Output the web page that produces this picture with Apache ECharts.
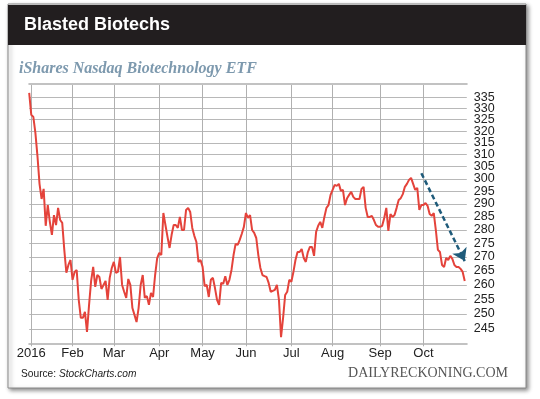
<!DOCTYPE html>
<html>
<head>
<meta charset="utf-8">
<title>Blasted Biotechs</title>
<script src="https://cdn.jsdelivr.net/npm/echarts@6/dist/echarts.min.js"></script>
<style>
  html, body { margin: 0; padding: 0; background: #fff; }
  #chart { width: 540px; height: 399px; }
</style>
</head>
<body>
<div id="chart"></div>
<script>
// NYSE closed on these days (2016)
var holidays = ['2016-01-18', '2016-02-15', '2016-03-25', '2016-05-30', '2016-07-04', '2016-09-05'];
var firstDay = '2015-12-31';
var lastDay = '2016-11-01';

var monthLabels = ['2016', 'Feb', 'Mar', 'Apr', 'May', 'Jun', 'Jul', 'Aug', 'Sep', 'Oct'];

var yTicks = [245, 250, 255, 260, 265, 270, 275, 280, 285, 290, 295, 300,
  305, 310, 315, 320, 325, 330, 335];

// IBB closes (one per trading day)
var ibb = [
  336.9, 327.1, 326.2, 319.2, 309.4, 298.0, 292.0, 296.0, 281.6, 289.6,
  283.1, 278.2, 285.7, 281.9, 288.5, 283.8, 282.7, 272.6, 264.3, 267.1,
  268.9, 261.8, 264.6, 265.3, 254.8, 248.7, 248.7, 250.7, 244.0, 253.1,
  261.4, 266.4, 259.3, 263.5, 262.8, 258.6, 260.0, 261.4, 254.8, 262.5,
  266.0, 268.2, 264.3, 264.6, 270.0, 260.0, 257.6, 255.5, 262.1, 260.0,
  252.0, 249.7, 247.3, 252.0, 260.0, 263.5, 255.5, 256.1, 253.1, 257.2,
  255.8, 263.5, 269.6, 271.5, 270.7, 286.5, 281.9, 277.4, 273.3, 278.2,
  281.9, 281.9, 280.8, 285.0, 280.0, 280.0, 287.7, 288.5, 286.9, 280.8,
  277.8, 275.5, 268.2, 268.9, 266.4, 259.6, 260.0, 255.8, 261.8, 262.5,
  258.9, 254.8, 253.1, 260.7, 260.4, 263.1, 260.0, 261.8, 265.3, 270.7,
  274.8, 274.4, 276.3, 278.6, 281.2, 286.5, 284.6, 285.7, 280.0, 278.9,
  277.0, 270.7, 266.0, 263.5, 263.1, 262.8, 260.7, 257.6, 257.9, 258.3,
  260.0, 254.8, 242.3, 248.7, 256.5, 257.6, 261.8, 261.1, 264.6, 268.9,
  271.8, 271.8, 272.9, 269.6, 268.2, 271.8, 273.7, 273.7, 270.4, 279.3,
  281.6, 283.1, 280.8, 285.0, 288.5, 289.6, 293.6, 295.6, 297.6, 297.2,
  298.0, 295.2, 295.6, 289.6, 292.3, 293.6, 294.8, 292.8, 292.0, 292.0,
  292.0, 296.0, 296.8, 288.5, 285.0, 285.0, 285.4, 283.8, 281.9, 281.2,
  281.2, 281.6, 284.6, 288.5, 279.7, 286.1, 285.0, 285.7, 288.5, 291.6,
  292.3, 293.9, 296.8, 298.0, 299.6, 300.4, 298.0, 295.6, 296.4, 287.7,
  289.6, 289.6, 290.4, 289.3, 286.1, 285.4, 286.5, 280.0, 272.6, 271.8,
  267.1, 266.4, 269.6, 268.9, 270.4, 269.3, 267.1, 266.4, 266.4, 265.7,
  264.6, 261.4
];

// trend arrow: [trading day index, price]
var arrowFrom = [190, 302.3];
var arrowTo = [211, 268.5];

var dates = [];
(function () {
  var d = new Date(firstDay + 'T00:00:00Z');
  var end = new Date(lastDay + 'T00:00:00Z');
  while (d <= end) {
    var s = d.toISOString().slice(0, 10);
    var wd = d.getUTCDay();
    if (wd !== 0 && wd !== 6 && holidays.indexOf(s) < 0) dates.push(s);
    d.setUTCDate(d.getUTCDate() + 1);
  }
})();

function isMonthStart(idx) {
  if (idx === 0) return false;
  var m = +dates[idx].slice(5, 7);
  return dates[idx].slice(0, 4) === '2016' && m <= monthLabels.length &&
    dates[idx].slice(5, 7) !== dates[idx - 1].slice(5, 7);
}

var labelFont = '"Liberation Sans", Arial, sans-serif';

// the price axis is logarithmic: plot ln(price), label with the price
function priceAxis(ticks) {
  var vals = ticks.map(Math.log);
  return {
    type: 'value',
    position: 'right',
    min: Math.log(240.3),
    max: Math.log(341),
    axisLine: { show: false },
    axisTick: { show: false, customValues: vals },
    axisLabel: {
      customValues: vals,
      showMinLabel: true,
      showMaxLabel: true,
      margin: 7,
      color: '#222',
      fontSize: 12.5,
      fontFamily: labelFont,
      formatter: function (v) {
        return Math.round(Math.exp(v));
      }
    },
    splitLine: { show: true, lineStyle: { color: '#b8b8b8', width: 1 } }
  };
}

var myChart = echarts.init(document.getElementById('chart'));

var option = {
  animation: false,
  backgroundColor: '#fff',
  graphic: [
    {
      type: 'rect',
      shape: { x: 8, y: 4, width: 518, height: 384 },
      style: {
        fill: '#fff', stroke: '#8a8a8a', lineWidth: 1,
        shadowBlur: 4, shadowOffsetX: 2, shadowOffsetY: 2, shadowColor: 'rgba(0,0,0,0.45)'
      },
      z: -10
    },
    {
      type: 'rect',
      shape: { x: 8, y: 5, width: 518, height: 40 },
      style: { fill: '#221e1f' },
      z: -9
    },
    {
      type: 'text',
      left: 24, top: 16,
      style: {
        text: 'Blasted Biotechs', fill: '#fff',
        font: 'bold 18px "Liberation Sans", Arial, sans-serif'
      }
    },
    {
      type: 'text',
      left: 19, top: 61,
      style: {
        text: 'iShares Nasdaq Biotechnology ETF', fill: '#7d99ae',
        font: 'italic bold 16px "Liberation Serif", "Times New Roman", serif'
      }
    },
    {
      type: 'text',
      left: 21, top: 369,
      style: {
        text: 'Source: {i|StockCharts.com}', fill: '#222',
        font: '10.2px "Liberation Sans", Arial, sans-serif',
        rich: { i: { fontStyle: 'italic', fontSize: 10.2, fontFamily: labelFont, fill: '#222' } }
      }
    },
    {
      type: 'text',
      right: 32, top: 366,
      style: {
        text: 'DAILYRECKONING.COM', fill: '#555',
        font: '14px "Liberation Serif", "Times New Roman", serif'
      }
    }
  ],
  grid: {
    left: 29.2,
    right: 73.2,
    top: 84,
    bottom: 55.7
  },
  xAxis: [
    {
      type: 'category',
      data: dates,
      boundaryGap: false,
      axisLine: { lineStyle: { color: '#c2c2c2', width: 2 } },
      axisTick: {
        show: true, length: 3, interval: isMonthStart,
        lineStyle: { color: '#b0b0b0' }
      },
      axisLabel: {
        interval: isMonthStart,
        margin: 4,
        color: '#222',
        fontSize: 13,
        fontFamily: labelFont,
        formatter: function (v) {
          return monthLabels[+v.slice(5, 7) - 1];
        }
      },
      splitLine: {
        show: true, interval: isMonthStart,
        lineStyle: { color: '#b0b0b0', width: 1 }
      }
    },
    {
      type: 'category',
      data: dates,
      boundaryGap: false,
      position: 'top',
      axisLine: { lineStyle: { color: '#c2c2c2', width: 2 } },
      axisTick: { show: false },
      axisLabel: { show: false },
      splitLine: { show: false }
    }
  ],
  // ticks alternate between two overlaid axes so the crowded top labels all stay
  yAxis: [
    priceAxis(yTicks.filter(function (t, i) { return i % 2 === 0; })),
    priceAxis(yTicks.filter(function (t, i) { return i % 2 === 1; }))
  ],
  series: [
    {
      name: 'IBB',
      type: 'line',
      yAxisIndex: 0,
      data: ibb.map(Math.log),
      symbol: 'none',
      lineStyle: { color: '#e4433b', width: 2 },
      markLine: {
        silent: true,
        symbol: ['none', 'arrow'],
        symbolSize: 12,
        label: { show: false },
        lineStyle: { color: '#1f5b7a', width: 2.5, type: [5, 3] },
        data: [[
          { coord: [dates[arrowFrom[0]], Math.log(arrowFrom[1])] },
          { coord: [dates[arrowTo[0]], Math.log(arrowTo[1])] }
        ]]
      }
    }
  ]
};

myChart.setOption(option);
window.addEventListener('resize', function () {
  myChart.resize();
});
</script>
</body>
</html>
